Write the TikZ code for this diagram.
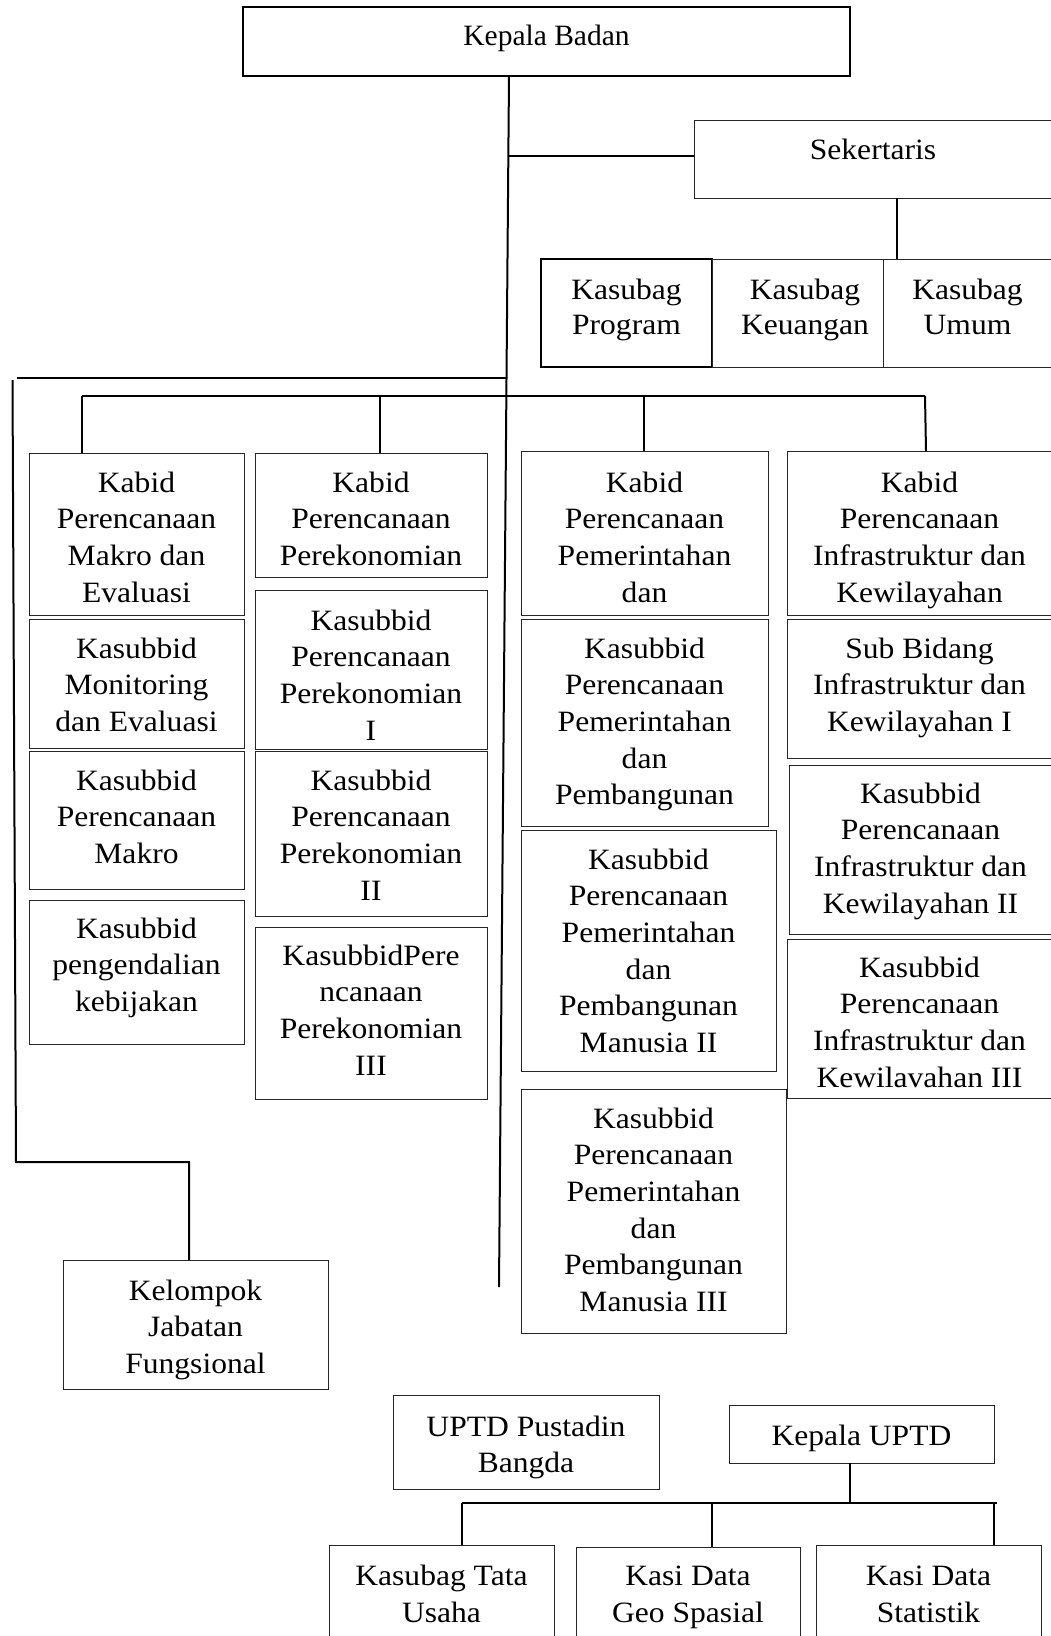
\documentclass[tikz,border=0pt]{standalone}
\usepackage{fontspec}
\setmainfont{Liberation Serif}[FakeStretch=1.07]
\newfontfamily\kbfont{Liberation Serif}
% width, height, first-baseline offset, text
\newcommand{\orgtxt}[4]{\parbox[c][#2][t]{#1}{\centering\rule{0pt}{#3}#4\par}}
\begin{document}
\begin{tikzpicture}[x=1pt,y=-1pt,
  obox/.style={draw=black!85, line width=1pt, inner sep=0pt, outer sep=0pt, rectangle,
               font=\fontsize{29.5}{36.7}\selectfont},
  thickbox/.style={obox, draw=black, line width=2pt},
  conn/.style={line width=2pt, draw=black},
  thinconn/.style={line width=1.2pt, draw=black},
  barconn/.style={line width=2.6pt, draw=black}]
\useasboundingbox (0,0) rectangle (1051,1636);

% ---- top
\node[obox, draw=black, line width=1.3pt, font=\kbfont\fontsize{29.5}{34}\selectfont] (kb) at (546.5,41.5)
  {\orgtxt{607pt}{69pt}{38pt}{Kepala Badan}};
\node[obox] (sek) at (873,159) {\orgtxt{358pt}{78pt}{39pt}{Sekertaris}};
\node[thickbox, font=\fontsize{29.5}{35}\selectfont] (kp) at (626.5,313) {\orgtxt{171pt}{108pt}{40pt}{Kasubag\\Program}};
\node[obox, font=\fontsize{29.5}{35}\selectfont] (kk) at (797.5,313) {\orgtxt{171pt}{108pt}{40pt}{\hspace*{15pt}Kasubag\\\hspace*{15pt}Keuangan}};
\node[obox, font=\fontsize{29.5}{35}\selectfont] (ku) at (967.5,313) {\orgtxt{169pt}{108pt}{40pt}{Kasubag\\Umum}};

% ---- column A
\node[obox] (A1) at (136.5,534) {\orgtxt{215pt}{162pt}{39pt}{Kabid\\Perencanaan\\Makro dan\\Evaluasi}};
\node[obox] (A2) at (136.5,683.5) {\orgtxt{215pt}{129pt}{39pt}{Kasubbid\\Monitoring\\dan Evaluasi}};
\node[obox] (A3) at (136.5,820) {\orgtxt{215pt}{138pt}{39pt}{Kasubbid\\Perencanaan\\Makro}};
\node[obox] (A4) at (136.5,972) {\orgtxt{215pt}{144pt}{38pt}{Kasubbid\\pengendalian\\kebijakan}};

% ---- column B
\node[obox] (B1) at (371,515) {\orgtxt{232pt}{124pt}{39pt}{Kabid\\Perencanaan\\Perekonomian}};
\node[obox] (B2) at (371,669.5) {\orgtxt{232pt}{159pt}{40pt}{Kasubbid\\Perencanaan\\Perekonomian\\I}};
\node[obox] (B3) at (371,833.5) {\orgtxt{232pt}{165pt}{39pt}{Kasubbid\\Perencanaan\\Perekonomian\\II}};
\node[obox] (B4) at (371,1013) {\orgtxt{232pt}{172pt}{38pt}{KasubbidPere\\ncanaan\\Perekonomian\\III}};

% ---- column C
\node[obox] (C1) at (644.5,533) {\orgtxt{247pt}{164pt}{41pt}{Kabid\\Perencanaan\\Pemerintahan\\dan}};
\node[obox] (C2) at (644.5,722.5) {\orgtxt{247pt}{207pt}{39pt}{Kasubbid\\Perencanaan\\Pemerintahan\\dan\\Pembangunan}};
\node[obox] (C3) at (648.5,950.5) {\orgtxt{255pt}{241pt}{39pt}{Kasubbid\\Perencanaan\\Pemerintahan\\dan\\Pembangunan\\Manusia II}};
\node[obox] (C4) at (653.5,1211) {\orgtxt{265pt}{244pt}{39pt}{Kasubbid\\Perencanaan\\Pemerintahan\\dan\\Pembangunan\\Manusia III}};

% ---- column D
\node[obox] (D1) at (919.5,533) {\orgtxt{265pt}{164pt}{41pt}{Kabid\\Perencanaan\\Infrastruktur dan\\Kewilayahan}};
\node[obox] (D2) at (919.5,688.5) {\orgtxt{265pt}{139pt}{39pt}{Sub Bidang\\Infrastruktur dan\\Kewilayahan I}};
\node[obox] (D3) at (920.5,849.5) {\orgtxt{263pt}{169pt}{38pt}{Kasubbid\\Perencanaan\\Infrastruktur dan\\Kewilayahan II}};
\node[obox] (D4) at (919.5,1018.5) {\orgtxt{265pt}{159pt}{38pt}{Kasubbid\\Perencanaan\\Infrastruktur dan\\Kewilavahan III}};

% ---- functional group
\node[obox] (kjf) at (195.5,1324.5) {\orgtxt{265pt}{129pt}{40pt}{Kelompok\\Jabatan\\Fungsional}};

% ---- UPTD
\node[obox, font=\fontsize{29.5}{36}\selectfont] (upt) at (526,1442) {\orgtxt{266pt}{94pt}{41pt}{UPTD Pustadin\\Bangda}};
\node[obox] (kup) at (861.5,1434) {\orgtxt{265pt}{58pt}{40pt}{Kepala UPTD}};
\node[obox, font=\fontsize{29.5}{37.5}\selectfont] (kt) at (441.5,1597.5) {\orgtxt{225pt}{105pt}{40pt}{Kasubag Tata\\Usaha}};
\node[obox, font=\fontsize{29.5}{37.5}\selectfont] (kg) at (688,1598.5) {\orgtxt{224pt}{103pt}{38pt}{Kasi Data\\Geo Spasial}};
\node[obox, font=\fontsize{29.5}{37.5}\selectfont] (ks) at (928.5,1597.5) {\orgtxt{225pt}{105pt}{40pt}{Kasi Data\\Statistik}};

% ---- connectors
\coordinate (tTop) at (509,76);
\coordinate (tBot) at (499,1287);
\coordinate (jS) at (508.3,156);
\coordinate (jL) at (506.5,378);
\coordinate (jK) at (506.4,396);
\coordinate (sekDrop) at (897,198);
\coordinate (lTop) at (12.5,380);
\coordinate (lBot) at (16,1162);
\coordinate (fDrop) at (189,1162);
\coordinate (barL) at (82,396);
\coordinate (barR) at (925,396);
\coordinate (dB) at (380,396);
\coordinate (dC) at (644,396);
\coordinate (uDrop) at (850,1463);
\coordinate (ubL) at (462,1503);
\coordinate (ubR) at (997,1503);
\coordinate (ubM) at (712,1503);
\coordinate (ubE) at (994,1503);

\draw[conn] (kb.south -| tTop) -- (tBot);
\draw[conn] (jS) -- (jS -| sek.west);
\draw[conn] (sekDrop) -- (sekDrop |- ku.north);
\draw[conn] (jL) -- (17,378);
\draw[conn] (lTop) -- (lBot) -- (fDrop) -- (fDrop |- kjf.north);
\draw[conn] (barL) -- (barR);
\draw[conn] (barL) -- (barL |- A1.north);
\draw[conn] (dB) -- (dB |- B1.north);
\draw[conn] (dC) -- (dC |- C1.north);
\draw[conn] (barR) -- (926,451 |- D1.north);
\draw[thinconn] (uDrop) -- (uDrop |- ubL);
\draw[barconn] (ubL) -- (ubR);
\draw[thinconn] (ubL) -- (ubL |- kt.north);
\draw[thinconn] (ubM) -- (ubM |- kg.north);
\draw[thinconn] (ubE) -- (ubE |- ks.north);
\end{tikzpicture}
\end{document}
